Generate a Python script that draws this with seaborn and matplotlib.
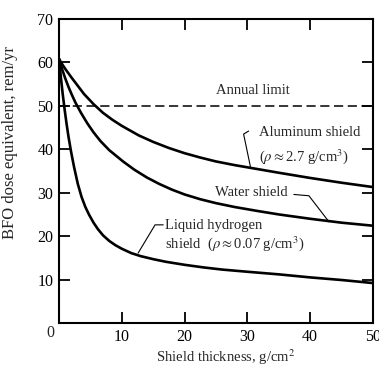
import matplotlib
matplotlib.use("Agg")
import matplotlib.pyplot as plt
import seaborn as sns
import pandas as pd

# ---- data ----
al_x = [0, 0.5, 1, 1.5, 2, 3, 4, 5.5, 7, 8.5, 10, 12.7, 15, 17.5, 20, 22.5, 25, 28, 31, 35, 40, 45, 50]
al_y = [60.8, 59.6, 58.5, 57.5, 56.5, 54.6, 52.7, 50.4, 48.4, 46.8, 45.4, 43.2, 41.7, 40.3, 39.1,
        38.1, 37.2, 36.35, 35.6, 34.6, 33.4, 32.3, 31.3]

water_x = [0, 0.5, 1, 1.5, 2, 2.6, 3.5, 4.5, 5.5, 6.6, 8, 10.2, 12, 14, 16, 18, 20, 22.5, 25, 28,
           31.6, 35, 40, 45, 50]
water_y = [60.8, 58.4, 56.3, 54.4, 52.7, 50.8, 48.4, 46.0, 43.9, 41.9, 39.8, 37.2, 35.3, 33.5,
           32.0, 30.7, 29.6, 28.5, 27.6, 26.7, 25.8, 25.0, 24.0, 23.1, 22.4]

lh2_x = [0, 0.3, 0.6, 0.9, 1.2, 1.5, 1.9, 2.4, 3.0, 3.6, 4.2, 4.8, 5.5, 6.2, 7, 8, 9, 10, 11.5,
         13, 15, 17, 20, 23, 26, 30, 35, 40, 45, 50]
lh2_y = [60.8, 56.5, 52.6, 49.1, 45.9, 43.0, 39.6, 35.9, 32.0, 29.0, 26.7, 24.9, 23.1, 21.6,
         20.2, 18.9, 17.9, 17.1, 16.1, 15.4, 14.7, 14.1, 13.4, 12.8, 12.3, 11.8, 11.2, 10.5, 9.9, 9.2]

annual_limit = 50
x_ticks = [0, 10, 20, 30, 40, 50]
x_ticklabels = ["", "10", "20", "30", "40", "50"]
y_ticks = [10, 20, 30, 40, 50, 60, 70]

sns.set_style("ticks")
plt.rcParams["font.family"] = ["Liberation Serif", "DejaVu Serif"]
plt.rcParams["mathtext.fontset"] = "stix"

fig = plt.figure(figsize=(3.79, 3.67), dpi=100)
ax = fig.add_axes([0.1557, 0.1199, 0.8283, 0.8283])

df = pd.concat([
    pd.DataFrame({"x": al_x, "y": al_y, "s": "al"}),
    pd.DataFrame({"x": water_x, "y": water_y, "s": "water"}),
    pd.DataFrame({"x": lh2_x, "y": lh2_y, "s": "lh2"}),
])
for name in ["al", "water", "lh2"]:
    sub = df[df["s"] == name]
    sns.lineplot(data=sub, x="x", y="y", ax=ax, color="black", lw=1.9,
                 sort=False, estimator=None, legend=False,
                 solid_joinstyle="round", solid_capstyle="round")

ax.axhline(annual_limit, color="black", lw=1.1, ls=(0, (6, 3)))

ax.set_xlim(0, 50)
ax.set_ylim(0, 70)
ax.set_xticks(x_ticks)
ax.set_yticks(y_ticks)
ax.set_xticklabels(x_ticklabels)
ax.set_yticklabels([str(v) for v in y_ticks])
# the origin "0" sits down-left of the corner in the reference
ax.annotate("0", xy=(0, 0), xytext=(-6.5, -7.5), textcoords="offset points",
            ha="center", va="center", fontsize=11.5, annotation_clip=False)

ax.tick_params(axis="both", direction="in", length=8, width=1.3, labelsize=11.5,
               top=True, right=True, color="black", labelcolor="black", pad=4)
for s in ax.spines.values():
    s.set_linewidth(1.5)
    s.set_color("black")

xl = ax.set_xlabel("Shield thickness, g/cm$^2$", fontsize=10.5)
xl.set_va("baseline")
ax.xaxis.set_label_coords(0.53, -0.128)
ax.set_ylabel("BFO dose equivalent, rem/yr", fontsize=12)
ax.yaxis.set_label_coords(-0.131, 0.595)

fs = 10.5
ax.text(30.8, 52.0, "Annual limit", ha="center", va="bottom", fontsize=fs)
ax.text(31.8, 43.8, "Aluminum shield", ha="left", va="center", fontsize=fs)
ax.text(31.9, 38.4, r"($\rho\approx$2.7 g/cm$^3$)", ha="left", va="center", fontsize=fs)
ax.text(30.7, 30.0, "Water shield", ha="center", va="center", fontsize=fs)
ax.text(16.9, 22.4, "Liquid hydrogen", ha="left", va="center", fontsize=fs)
ax.text(16.9, 18.4, r"shield  ($\rho\approx$0.07 g/cm$^3$)", ha="left", va="center", fontsize=fs)

# leader lines
ax.plot([30.2, 29.4, 30.5], [44.2, 43.5, 35.9], color="black", lw=0.8)
ax.plot([37.4, 39.8, 43.0], [29.6, 29.3, 23.3], color="black", lw=0.8)
ax.plot([16.6, 15.3, 12.6], [22.6, 22.6, 16.1], color="black", lw=0.8)

fig.savefig("out.png", dpi=100)
